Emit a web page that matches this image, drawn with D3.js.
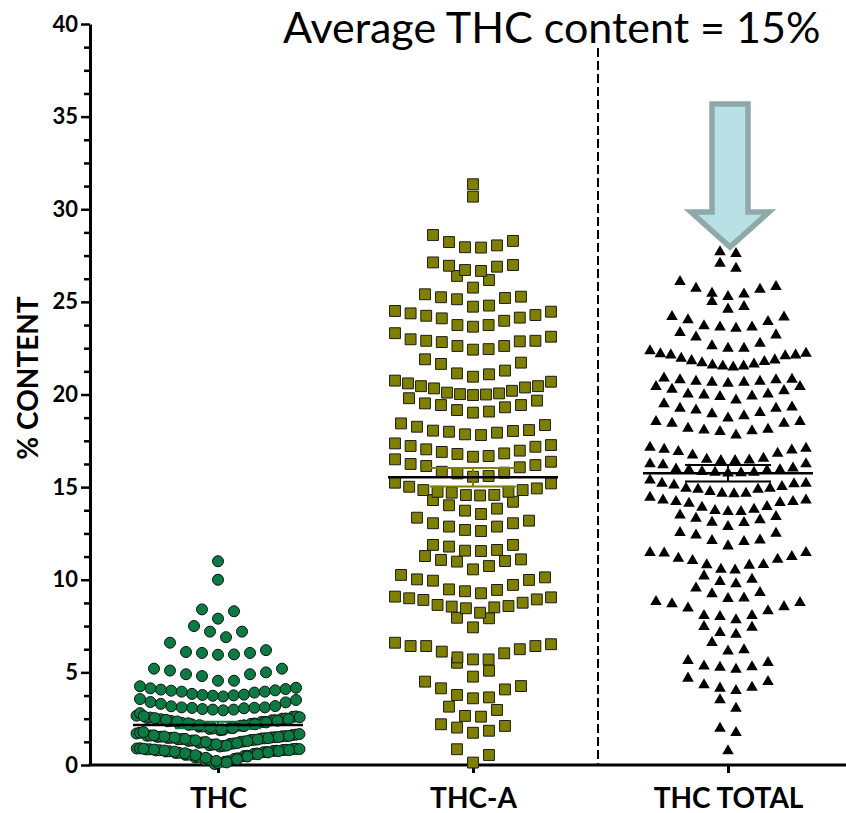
<!DOCTYPE html>
<html><head><meta charset="utf-8">
<script src="https://cdn.jsdelivr.net/npm/d3@7"></script>
<style>body{margin:0;background:#fff}svg{display:block}</style>
</head><body>
<svg id="chart" width="846" height="813"></svg>
<script>
// ---------------- DATA ----------------
const categories = ["THC", "THC-A", "THC TOTAL"];

const thcValues = [
  11.0, 10.0,
  8.4, 7.9, 8.3,
  7.5, 7.2, 6.9, 7.2,
  6.6,
  6.1, 6.05, 5.95, 5.97, 6.05, 6.2,
  5.2, 5.0, 4.9, 4.8, 4.9, 5.1, 5.2,
  4.55, 4.55,
  4.17, 4.1, 4.01, 3.96, 3.91, 3.78, 3.74, 3.7, 3.76, 3.8, 3.84, 3.96, 4.03, 4.07, 4.14, 4.25,
  3.56, 3.38, 3.18, 3.11, 3.08, 3.02, 2.99, 2.95, 3.51, 2.99, 3.06, 3.09, 3.11, 3.17, 3.3, 3.4, 2.8,
  1.88, 1.9, 1.92, 1.95, 1.97, 1.99, 2.01, 2.03, 2.05, 2.07, 2.08, 2.1, 2.12, 2.14, 2.15, 2.17,
  2.19, 2.2, 2.22, 2.24, 2.25, 2.27, 2.28, 2.3, 2.32, 2.33, 2.35, 2.36, 2.38, 2.39, 2.41, 2.42,
  2.44, 2.45, 2.47, 2.48, 2.5, 2.51, 2.53, 2.54, 2.56, 2.58, 2.6, 2.62, 2.64, 2.66,
  1.0, 1.03, 1.05, 1.07, 1.1, 1.12, 1.14, 1.16, 1.18, 1.2, 1.22, 1.24, 1.25, 1.27, 1.29, 1.3,
  1.32, 1.33, 1.35, 1.36, 1.38, 1.39, 1.4, 1.41, 1.43, 1.44, 1.45, 1.46, 1.47, 1.48, 1.49, 1.5,
  1.51, 1.52, 1.53, 1.54, 1.55, 1.56, 1.57, 1.58, 1.59, 1.6, 1.62, 1.64, 1.67, 1.7, 1.74, 1.78,
  0.05, 0.1, 0.14, 0.17, 0.2, 0.22, 0.26, 0.29, 0.31, 0.33, 0.36, 0.39, 0.41, 0.44, 0.46, 0.48,
  0.5, 0.53, 0.55, 0.56, 0.58, 0.6, 0.62, 0.63, 0.65, 0.66, 0.68, 0.69, 0.7, 0.72, 0.73, 0.74,
  0.75, 0.76, 0.77, 0.78, 0.79, 0.8, 0.8, 0.81, 0.82, 0.83, 0.84, 0.85, 0.86, 0.86, 0.87, 0.88,
  0.89, 0.9
];

const thcaValues = [
  31.35, 30.68,
  28.29, 28.05, 27.93, 27.95, 28.23, 28.61,
  27.13, 26.95, 26.72, 26.67, 26.9, 26.99, 26.4, 26.18,
  25.77,
  25.28, 25.21, 24.8, 24.74, 25.14, 25.25, 25.41,
  24.47, 24.29, 24.15, 23.98, 23.75, 23.75, 24.11, 24.25, 24.38, 24.51, 23.66,
  23.12, 22.9, 22.87, 22.83, 22.9, 22.98, 23.31, 22.62, 22.45, 22.42, 22.62,
  21.9,
  21.72, 21.29, 21.09, 20.96, 21.14, 21.65,
  20.75, 20.6, 20.45, 20.33, 20.1, 20.02, 19.97, 20.0, 20.06, 20.2, 20.38, 20.45, 20.69,
  19.67, 19.43, 19.31, 19.08, 19.02, 19.16, 19.43, 19.52, 19.8,
  18.44, 18.26, 18.05, 18.08, 18.35, 17.81, 17.99, 17.85, 17.94, 18.03,
  17.04, 16.9, 17.36, 16.79, 17.22, 16.64, 17.18, 17.27, 16.68, 16.82, 16.97,
  16.19, 16.07, 15.78, 15.6, 16.37, 15.56, 16.5, 15.74, 15.83, 16.14, 16.25,
  15.2, 14.93, 14.84, 14.75, 14.55, 14.57, 14.58, 14.7, 14.75, 14.84, 15.02, 15.24,
  14.3, 14.02, 13.73, 13.55, 13.84, 14.21,
  13.19, 13.05, 12.87, 12.63, 12.69, 12.87, 13.05, 13.35,
  11.88, 11.79, 11.57, 11.28, 11.1, 11.55, 11.61, 11.88, 11.01, 10.74, 10.56, 10.98, 11.07,
  10.13, 9.99, 9.72, 10.26, 9.45, 9.38, 9.48, 9.95, 10.02,
  9.09, 9.0, 8.91, 8.64, 8.55, 8.46, 8.51, 8.58, 8.76, 8.94, 9.05, 9.27, 8.22, 7.92, 7.43, 7.95,
  6.12, 6.6, 5.81, 6.42, 5.7, 5.09, 6.42, 5.52, 6.42, 5.7, 6.52, 6.03, 6.25,
  4.26, 4.08, 3.65, 4.5, 3.6, 4.77, 3.78, 3.15, 4.14,
  2.97, 2.61, 2.65, 2.11, 1.85, 1.74, 2.02, 2.2,
  0.85, 0.54, 0.13
];

const thcTotalValues = [
  27.7, 27.6,
  27.08, 26.81,
  26.09,
  25.73, 25.46, 25.28, 25.42, 25.67, 25.82,
  25.01,
  24.6, 24.74,
  24.17, 24.2,
  24.02, 23.7, 23.63, 23.34, 23.21, 23.57, 23.63, 23.93,
  23.09,
  22.76, 22.49, 22.35, 22.49, 22.62,
  22.19, 22.13, 21.95, 21.82, 21.71, 21.58, 21.53, 21.47, 21.53, 21.64, 21.77, 21.86, 22.08, 22.13, 22.22,
  20.82, 20.79, 20.7, 20.65, 20.6, 20.65, 20.7, 20.79, 20.88,
  20.42, 20.28, 20.02, 19.97, 19.88, 19.7, 19.91, 20.02, 20.2, 20.42,
  19.49, 19.25, 19.16, 18.95, 18.72, 18.84, 19.02, 19.25, 19.31,
  18.53, 18.44, 18.17, 18.04, 17.99, 17.81, 18.08, 18.12, 18.44, 18.53,
  17.09, 17.0, 16.82, 16.55, 16.43, 16.43, 16.46, 16.5, 16.73, 16.91, 17.04, 17.14,
  16.25, 16.2, 15.93, 15.84, 15.79, 15.75, 15.79, 15.9, 15.93, 15.97, 16.02, 16.25, 15.77,
  15.2, 15.17, 15.02, 14.93, 14.88, 14.66, 14.63, 14.66, 14.75, 14.88, 14.93, 15.11, 15.2, 15.38,
  14.3, 14.21, 14.12, 13.94, 13.8, 13.67, 13.67, 13.73, 13.91, 14.16, 14.21, 14.3, 14.45,
  13.49, 13.31, 13.1, 12.86, 13.08, 13.23, 13.4,
  12.5, 12.14, 12.05, 11.82, 12.11, 12.41, 12.54,
  11.46, 11.24, 11.1, 10.82, 10.78, 10.8, 11.03, 11.15, 11.43, 11.46, 10.56, 10.2, 10.52,
  9.54, 9.23, 9.9, 8.98, 9.77, 9.0, 10.02, 9.3,
  8.76, 8.54, 8.32, 7.83, 8.06, 8.01, 8.06, 8.46, 8.69, 8.82,
  7.43, 7.05, 7.14, 6.6, 7.47,
  6.21, 6.15,
  5.52, 5.3, 5.16, 5.27, 5.34, 5.63,
  4.68, 4.32, 4.14, 4.01, 3.51, 4.19, 4.5,
  3.06,
  1.98, 1.74,
  0.76
];

const groupMeans = [2.16, 15.53, 15.75];
const groupSems = [0.17, 0.5, 0.45];
const yTickValues = [0, 5, 10, 15, 20, 25, 30, 35, 40];
const titleText = "Average THC content = 15%";
const yAxisTitle = "% CONTENT";

// ---------------- LAYOUT / STYLE ----------------
const W = 846, H = 813;
const FONT = "Lato, 'Open Sans', sans-serif";
const svg = d3.select("#chart");
const y = d3.scaleLinear().domain([0, 40]).range([765, 24]);
const x = d3.scalePoint().domain(categories).range([218, 728]);
const AXIS_X = 90;

const groups = [
  { name: categories[0], values: thcValues,      shape: d3.symbolCircle,   size: 95,  fill: "#0b7a43", stroke: "#111", sw: 1 },
  { name: categories[1], values: thcaValues,     shape: d3.symbolSquare,   size: 118, fill: "#808000", stroke: "#1a1a1a", sw: 1 },
  { name: categories[2], values: thcTotalValues, shape: d3.symbolTriangle, size: 58,  fill: "#000000", stroke: "none", sw: 0 }
];
const semColors = ["#0b7a43", "#808000", "#000000"];

// Prism-style scatter rows: values grouped in rows, lowest value placed in the middle
const BIN = 1.0, MIN_SPAN = 0.4, BIG_GAP = 0.5, MAX_STEP = 16, HALF_WIDTH = 78, ROW_CAP = 17;
function binRows(values) {
  const s = values.slice().sort((a, b) => a - b);
  const rows = [];
  let i = 0;
  while (i < s.length) {
    const start = s[i];
    let j = i;
    while (j + 1 < s.length && s[j + 1] < start + BIN) j++;
    let best = j, bestGap = -1;
    for (let k = i; k <= j; k++) {
      const next = k + 1 < s.length ? s[k + 1] : Infinity;
      const gap = next - s[k];
      if (gap >= BIG_GAP) { best = k; break; }
      if (s[k] - start >= MIN_SPAN || k === j) {
        if (gap > bestGap) { bestGap = gap; best = k; }
      }
    }
    rows.push(s.slice(i, best + 1));
    i = best + 1;
  }
  return rows;
}
function placeRow(vals, cx, shiftFrac) {
  const n = vals.length;
  const step = n > 1 ? Math.min(MAX_STEP, 2 * HALF_WIDTH / (n - 1)) : 0;
  const slots = d3.range(n).map(i => i - (n - 1) / 2)
    .sort((a, b) => Math.abs(a) - Math.abs(b) || b - a);
  return vals.map((v, i) => ({ v, px: cx + (slots[i] + shiftFrac) * step }));
}
function layout(values, cx) {
  const out = [];
  binRows(values).forEach(row => {
    const k = Math.ceil(row.length / ROW_CAP);
    for (let c = 0; c < k; c++) {
      const sub = row.filter((_, idx) => idx % k === c);
      const shift = k > 1 ? (c - (k - 1) / 2) / k : 0;
      out.push(...placeRow(sub, cx, shift));
    }
  });
  return out;
}

// ---------------- TITLE ----------------
svg.append("text")
  .attr("x", 283).attr("y", 43)
  .attr("font-family", FONT).attr("font-size", 43).attr("fill", "#000")
  .text(titleText);

// dashed separator
svg.append("line")
  .attr("x1", 598).attr("x2", 598).attr("y1", 48).attr("y2", y(0))
  .attr("stroke", "#000").attr("stroke-width", 2).attr("stroke-dasharray", "9,4");

// ---------------- AXES ----------------
const gy = svg.append("g").attr("transform", `translate(${AXIS_X},0)`)
  .call(d3.axisLeft(y).tickValues(yTickValues).tickSize(9).tickSizeOuter(0).tickPadding(3));
gy.select(".domain").attr("stroke", "#000").attr("stroke-width", 3);
gy.selectAll(".tick line").attr("stroke", "#000").attr("stroke-width", 2.5);
gy.selectAll(".tick text").attr("font-family", FONT).attr("font-weight", "bold")
  .attr("font-size", 22).attr("fill", "#000");

const minorTicks = d3.range(0, 40.001, 1.25).filter(v => v % 5 !== 0);
const gym = svg.append("g").attr("transform", `translate(${AXIS_X},0)`)
  .call(d3.axisLeft(y).tickValues(minorTicks).tickSize(6).tickFormat(""));
gym.select(".domain").remove();
gym.selectAll(".tick line").attr("stroke", "#000").attr("stroke-width", 2.5);

// x axis
svg.append("line").attr("x1", AXIS_X - 1.5).attr("x2", W).attr("y1", y(0)).attr("y2", y(0))
  .attr("stroke", "#000").attr("stroke-width", 3);
const gx = svg.append("g").attr("transform", `translate(0,${y(0)})`)
  .call(d3.axisBottom(x).tickSize(8).tickSizeOuter(0));
gx.select(".domain").remove();
gx.selectAll(".tick line").attr("stroke", "#000").attr("stroke-width", 3);
gx.selectAll(".tick text").attr("font-family", FONT).attr("font-weight", "bold")
  .attr("font-size", 28).attr("fill", "#000").attr("y", 23).attr("dy", "0.71em");

// y title
svg.append("text")
  .attr("transform", "translate(38,378) rotate(-90)")
  .attr("text-anchor", "middle")
  .attr("font-family", FONT).attr("font-weight", "bold").attr("font-size", 28)
  .text(yAxisTitle);

// ---------------- POINTS ----------------
groups.forEach(g => {
  const pts = layout(g.values, x(g.name));
  svg.append("g").selectAll("path").data(pts).join("path")
    .attr("d", d3.symbol().type(g.shape).size(g.size))
    .attr("transform", d => `translate(${d.px},${y(d.v)})`)
    .attr("fill", g.fill).attr("stroke", g.stroke).attr("stroke-width", g.sw);
});

// ---------------- MEAN & SEM ----------------
groups.forEach((g, i) => {
  const cx = x(g.name);
  const m = groupMeans[i], s = groupSems[i];
  const gg = svg.append("g");
  gg.append("line").attr("x1", cx).attr("x2", cx).attr("y1", y(m + s)).attr("y2", y(m - s))
    .attr("stroke", semColors[i]).attr("stroke-width", 2);
  [m + s, m - s].forEach(v => gg.append("line")
    .attr("x1", cx - 43).attr("x2", cx + 43).attr("y1", y(v)).attr("y2", y(v))
    .attr("stroke", semColors[i]).attr("stroke-width", 2));
  gg.append("line").attr("x1", cx - 85).attr("x2", cx + 85).attr("y1", y(m)).attr("y2", y(m))
    .attr("stroke", "#000").attr("stroke-width", 2.5);
});

// ---------------- ARROW ----------------
const ax = x(categories[2]) + 2;
const arrowPts = [[ax - 18, 104], [ax + 18, 104], [ax + 18, 212], [ax + 39, 212], [ax, 247], [ax - 39, 212], [ax - 18, 212]];
svg.append("polygon")
  .attr("points", arrowPts.map(p => p.join(",")).join(" "))
  .attr("fill", "#b9e0e4").attr("stroke", "#8fa9aa").attr("stroke-width", 5.5)
  .attr("stroke-linejoin", "miter");
</script>
</body></html>
